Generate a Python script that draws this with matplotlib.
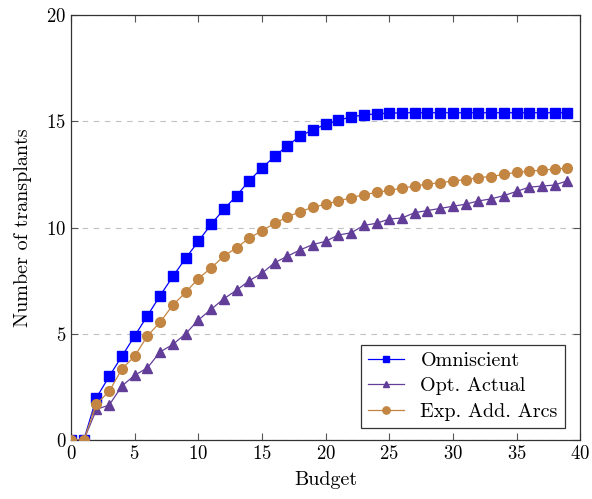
import matplotlib
matplotlib.use("Agg")
import matplotlib.pyplot as plt

plt.rcParams['font.family'] = 'serif'
plt.rcParams['font.serif'] = ['cmr10', 'DejaVu Serif']
plt.rcParams['mathtext.fontset'] = 'cm'
plt.rcParams['axes.formatter.use_mathtext'] = True

budget = list(range(40))
omniscient = [0, 0, 2.0, 3.0, 3.95, 4.9, 5.85, 6.8, 7.7, 8.55, 9.35, 10.15, 10.85, 11.5,
              12.2, 12.8, 13.35, 13.85, 14.3, 14.6, 14.85, 15.05, 15.2, 15.3, 15.35, 15.38,
              15.4, 15.4, 15.4, 15.4, 15.4, 15.4, 15.4, 15.4, 15.4, 15.4, 15.4, 15.4, 15.4, 15.4]
opt_actual = [0, 0, 1.45, 1.65, 2.55, 3.05, 3.4, 4.15, 4.5, 5.0, 5.65, 6.15, 6.65, 7.05,
              7.5, 7.85, 8.35, 8.65, 8.95, 9.2, 9.35, 9.65, 9.75, 10.1, 10.2, 10.4, 10.45,
              10.7, 10.8, 10.9, 11.0, 11.1, 11.25, 11.35, 11.5, 11.7, 11.9, 11.95, 12.0, 12.2]
exp_add_arcs = [0, 0, 1.7, 2.3, 3.35, 3.95, 4.9, 5.55, 6.35, 6.95, 7.6, 8.1, 8.65, 9.05,
                9.5, 9.85, 10.2, 10.5, 10.75, 10.95, 11.1, 11.25, 11.4, 11.55, 11.65, 11.75,
                11.85, 11.95, 12.05, 12.1, 12.2, 12.25, 12.35, 12.4, 12.5, 12.6, 12.65, 12.7,
                12.75, 12.8]
labels = ["Omniscient", "Opt. Actual", "Exp. Add. Arcs"]

blue = '#0000ff'
purple = '#633e99'
orange = '#c38542'

fig = plt.figure(figsize=(5.92, 4.99), dpi=100)
ax = fig.add_axes([0.12, 0.118, 0.86, 0.852])

ax.plot(budget, omniscient, color=blue, marker='s', markersize=6.5, linewidth=0.9,
        label=labels[0], zorder=3)
ax.plot(budget, opt_actual, color=purple, marker='^', markersize=6.5, linewidth=0.9,
        label=labels[1], zorder=3)
ax.plot(budget, exp_add_arcs, color=orange, marker='o', markersize=7, linewidth=0.9,
        label=labels[2], zorder=3)

ax.set_xlim(0, 40)
ax.set_ylim(0, 20)
ax.set_xticks(range(0, 41, 5))
ax.set_yticks(range(0, 21, 5))
ax.tick_params(direction='in', top=True, right=True, labelsize=13.5, length=5,
               color='#555555', width=0.8)
ax.yaxis.grid(True, linestyle=(0, (5, 5)), color='#c0c0c0', linewidth=0.8)
ax.set_axisbelow(True)
for s in ax.spines.values():
    s.set_color('#333333')
    s.set_linewidth(0.9)

ax.set_xlabel("Budget", fontsize=14.5, labelpad=6)
ax.set_ylabel("Number of transplants", fontsize=14.5, labelpad=10)

leg = ax.legend(loc='lower right', bbox_to_anchor=(0.97, 0.028), fontsize=14.5,
                frameon=True, fancybox=False, edgecolor='#333333', framealpha=1,
                handlelength=1.8, borderpad=0.35, labelspacing=0.38, handletextpad=0.8,
                borderaxespad=0, markerscale=0.75)
leg.get_frame().set_linewidth(0.9)

fig.savefig("out.png", dpi=100)
